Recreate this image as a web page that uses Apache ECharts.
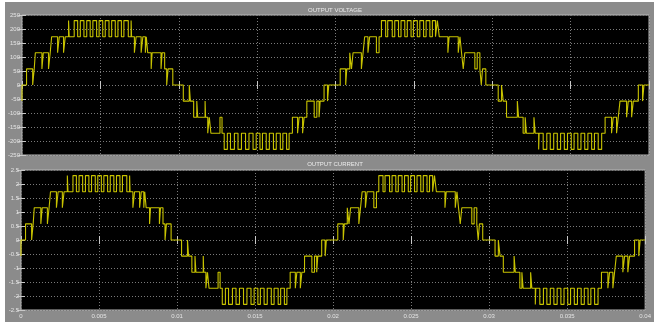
<!DOCTYPE html>
<html>
<head>
<meta charset="utf-8">
<script src="https://cdn.jsdelivr.net/npm/echarts@6/dist/echarts.min.js"></script>
<style>
  html, body { margin: 0; padding: 0; background: #ffffff; }
  #scope { position: absolute; left: 5px; top: 2px; width: 649px; height: 320px; }
</style>
</head>
<body>
<div id="scope"></div>
<script>
// Output levels of the 9-level inverter (index -4..4 maps to position 0..8)
const voltageLevels = [-230, -172.5, -115, -57.5, 0, 57.5, 115, 172.5, 230];
const currentLevels = [-2.3, -1.725, -1.15, -0.575, 0, 0.575, 1.15, 1.725, 2.3];

// Axis ticks
const timeTicks = [0, 0.005, 0.01, 0.015, 0.02, 0.025, 0.03, 0.035, 0.04];
const voltageTicks = [-250, -200, -150, -100, -50, 0, 50, 100, 150, 200, 250];
const currentTicks = [-2.5, -2, -1.5, -1, -0.5, 0, 0.5, 1, 1.5, 2, 2.5];

// Switching edges: [time in ms, level index after the edge]
const posHalf1 = [
  [0, -1], [0, 0], [0.29, 1], [0.68, 0], [0.78, 1], [0.85, 2], [1.27, 1], [1.36, 2],
  [1.69, 1], [1.80, 2], [1.89, 3], [2.27, 2], [2.38, 3], [2.65, 2], [2.76, 3],
  [2.97, 4], [3.01, 3], [3.33, 4], [3.55, 3], [3.72, 4], [3.95, 3], [4.13, 4],
  [4.35, 3], [4.52, 4], [4.76, 3], [4.92, 4], [5.15, 3], [5.31, 4], [5.55, 3],
  [5.72, 4], [5.95, 3], [6.12, 4], [6.34, 3], [6.50, 4], [6.78, 3], [6.96, 4],
  [6.99, 3], [7.17, 2], [7.28, 3], [7.60, 2], [7.71, 3], [7.87, 2], [7.93, 3],
  [8.02, 2], [8.24, 1], [8.30, 2], [8.87, 1], [8.94, 2], [9.10, 1], [9.23, 0],
  [9.32, 1], [9.62, 0]
];
const negHalf1 = [
  [10.29, -1], [10.67, 0], [10.74, -1], [10.95, -2], [11.15, -1], [11.21, -2],
  [11.68, -1], [11.71, -2], [11.85, -3], [11.95, -2], [12.05, -3], [12.63, -2],
  [12.76, -3], [12.90, -4], [13.10, -3], [13.30, -4], [13.55, -3], [13.78, -4],
  [14.00, -3], [14.26, -4], [14.48, -3], [14.74, -4], [14.94, -3], [15.18, -4],
  [15.34, -3], [15.58, -4], [15.78, -3], [16.04, -4], [16.22, -3], [16.48, -4],
  [16.64, -3], [16.88, -4], [17.04, -3], [17.25, -2], [17.58, -3], [17.68, -2],
  [17.90, -3], [18.00, -2], [18.17, -1], [18.64, -2], [18.81, -1], [18.95, -2],
  [19.02, -1], [19.27, 0], [19.49, -1], [19.57, 0]
];
const posHalf2 = [
  [20.30, 1], [20.65, 0], [20.72, 1], [20.91, 2], [21.02, 1], [21.12, 2],
  [21.65, 1], [21.76, 2], [21.86, 3], [22.07, 2], [22.18, 3], [22.61, 2],
  [22.78, 3], [22.93, 4], [23.20, 3], [23.33, 4], [23.62, 3], [23.78, 4],
  [24.02, 3], [24.18, 4], [24.42, 3], [24.58, 4], [24.82, 3], [24.97, 4],
  [25.22, 3], [25.38, 4], [25.62, 3], [25.78, 4], [26.02, 3], [26.18, 4],
  [26.38, 3], [26.50, 4], [26.62, 3], [27.17, 2], [27.25, 3], [27.83, 2],
  [27.94, 3], [28.04, 2], [28.15, 1], [28.25, 2], [28.89, 1], [29.04, 2],
  [29.21, 1], [29.30, 0], [29.38, 1], [29.59, 0]
];
const negHalf2 = [
  [30.38, -1], [30.59, 0], [30.70, -1], [30.91, -2], [31.60, -1], [31.68, -2],
  [31.97, -3], [32.10, -2], [32.18, -3], [32.66, -2], [32.74, -3], [32.96, -4],
  [32.99, -3], [33.25, -4], [33.48, -3], [33.70, -4], [33.92, -3], [34.15, -4],
  [34.36, -3], [34.60, -4], [34.80, -3], [35.04, -4], [35.22, -3], [35.46, -4],
  [35.66, -3], [35.90, -4], [36.10, -3], [36.34, -4], [36.52, -3], [36.76, -4],
  [36.98, -3], [37.20, -2], [37.61, -3], [37.72, -2], [37.93, -3], [38.04, -2],
  [38.15, -1], [38.57, -2], [38.68, -1], [38.89, -2], [39.00, -1], [39.32, 0],
  [39.59, -1], [39.68, 0]
];
const endTime = 0.04;

const edges = [].concat(posHalf1, negHalf1, posHalf2, negHalf2);

// Turn the edge list into a stepped polyline for the given level table
function trace(levels) {
  const pts = [];
  let prev = null;
  for (const [ms, k] of edges) {
    const t = ms / 1000;
    const v = levels[k + 4];
    if (prev !== null) pts.push([t, prev]);
    pts.push([t, v]);
    prev = v;
  }
  pts.push([endTime, prev]);
  return pts;
}

const FONT = '"Liberation Sans", Arial, sans-serif';
const labelColor = '#e4e4e4';
const gridDots = { type: [1, 2], color: '#7a7a7a', width: 1 };
const tickStyle = { color: '#c8c8c8', width: 1 };

function xAxisFor(gridIndex, showLabels, position) {
  return {
    type: 'value', gridIndex, position,
    min: timeTicks[0], max: timeTicks[timeTicks.length - 1],
    interval: timeTicks[1] - timeTicks[0],
    axisLine: { show: false },
    axisTick: { show: true, inside: true, length: 4, lineStyle: tickStyle },
    axisLabel: {
      show: showLabels, color: labelColor, fontSize: 6, fontFamily: FONT, margin: 3,
      formatter: v => String(Math.round(v * 1000) / 1000)
    },
    splitLine: { show: position === 'bottom', lineStyle: gridDots }
  };
}
function yAxisFor(gridIndex, ticks, position) {
  return {
    type: 'value', gridIndex, position,
    min: ticks[0], max: ticks[ticks.length - 1], interval: ticks[1] - ticks[0],
    axisLine: { show: false },
    axisTick: { show: true, inside: true, length: 4, lineStyle: tickStyle },
    axisLabel: {
      show: position === 'left', color: labelColor, fontSize: 6, fontFamily: FONT, margin: 2,
      formatter: v => String(Math.round(v * 100) / 100)
    },
    splitLine: { show: position === 'left', lineStyle: gridDots }
  };
}

const chart = echarts.init(document.getElementById('scope'), null, { renderer: 'canvas' });
chart.setOption({
  animation: false,
  backgroundColor: '#8b8b8b',
  graphic: [
    { type: 'text', x: 330, y: 5, style: { text: 'OUTPUT VOLTAGE', fill: '#ececec', font: '6px ' + FONT, textAlign: 'center' } },
    { type: 'text', x: 330, y: 159, style: { text: 'OUTPUT CURRENT', fill: '#ececec', font: '6px ' + FONT, textAlign: 'center' } }
  ],
  grid: [
    { left: 16, right: 5, top: 13, height: 140, show: true, backgroundColor: '#000000', borderColor: '#b4b4b4', borderWidth: 1 },
    { left: 16, right: 5, top: 168, height: 140, show: true, backgroundColor: '#000000', borderColor: '#b4b4b4', borderWidth: 1 }
  ],
  xAxis: [
    xAxisFor(0, false, 'bottom'),
    xAxisFor(1, true, 'bottom'),
    xAxisFor(0, false, 'top'),
    xAxisFor(1, false, 'top')
  ],
  yAxis: [
    yAxisFor(0, voltageTicks, 'left'),
    yAxisFor(1, currentTicks, 'left'),
    yAxisFor(0, voltageTicks, 'right'),
    yAxisFor(1, currentTicks, 'right')
  ],
  series: [
    {
      name: 'Output voltage', type: 'line', xAxisIndex: 0, yAxisIndex: 0,
      data: trace(voltageLevels), showSymbol: false, silent: true,
      lineStyle: { color: '#c8c300', width: 1.1 }
    },
    {
      name: 'Output current', type: 'line', xAxisIndex: 1, yAxisIndex: 1,
      data: trace(currentLevels), showSymbol: false, silent: true,
      lineStyle: { color: '#c8c300', width: 1.1 }
    }
  ]
});
</script>
</body>
</html>
